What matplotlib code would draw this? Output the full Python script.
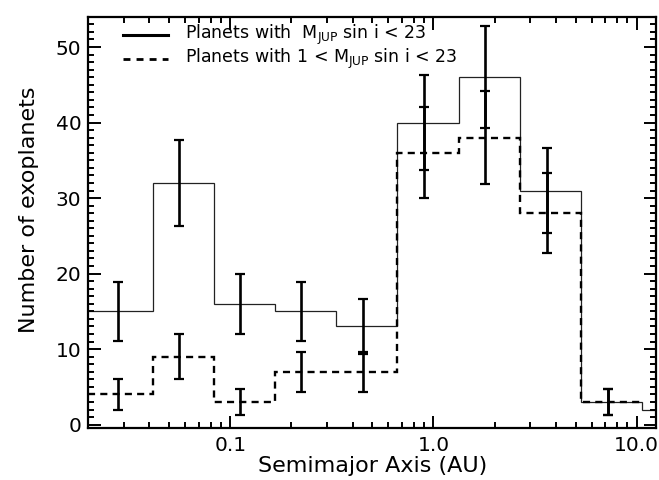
import matplotlib
matplotlib.use("Agg")
import matplotlib.pyplot as plt
from matplotlib.lines import Line2D
from matplotlib.ticker import LogLocator, FixedLocator, NullFormatter, MultipleLocator
import numpy as np

# ---- data ----
bin_edges = [0.02, 0.0415, 0.083, 0.166, 0.332, 0.664, 1.328, 2.656, 5.312, 10.62, 21.24]
all_counts = [15, 32, 16, 15, 13, 40, 46, 31, 3, 2]          # M sin i < 23
massive_counts = [4, 9, 3, 7, 7, 36, 38, 28, 3]              # 1 < M sin i < 23
err_x = [0.028, 0.056, 0.112, 0.224, 0.45, 0.9, 1.8, 3.6, 7.2]
x_ticks = [0.1, 1.0, 10.0]
x_tick_labels = ["0.1", "1.0", "10.0"]
y_ticks = [0, 10, 20, 30, 40, 50]
legend_labels = [r'Planets with  M$_{\mathrm{JUP}}$ sin i < 23',
                 r'Planets with 1 < M$_{\mathrm{JUP}}$ sin i < 23']

plt.rcParams['font.family'] = ['DejaVu Sans']
plt.rcParams['mathtext.fontset'] = 'dejavusans'

fig = plt.figure(figsize=(6.59, 4.8), dpi=100)
ax = fig.add_axes([0.134, 0.109, 0.862, 0.856])

ax.stairs(all_counts, bin_edges, baseline=None, color='#222222', lw=0.9)
ax.stairs(massive_counts, bin_edges[:len(massive_counts) + 1], baseline=None,
          color='black', lw=1.7, linestyle=(0, (3, 2.2)))

n_all = np.array(all_counts[:len(err_x)], dtype=float)
n_mas = np.array(massive_counts[:len(err_x)], dtype=float)
ekw = dict(fmt='none', ecolor='black', elinewidth=1.9, capsize=3.4, capthick=1.6)
ax.errorbar(err_x, n_all, yerr=np.sqrt(n_all), **ekw)
ax.errorbar(err_x, n_mas, yerr=np.sqrt(n_mas), **ekw)

ax.set_xscale('log')
ax.set_xlim(0.02, 12.5)
ax.set_ylim(-0.4, 54.0)

ax.xaxis.set_major_locator(FixedLocator(x_ticks))
ax.set_xticklabels(x_tick_labels)
ax.xaxis.set_minor_locator(LogLocator(base=10, subs=np.arange(2, 10), numticks=20))
ax.xaxis.set_minor_formatter(NullFormatter())
ax.set_yticks(y_ticks)
ax.yaxis.set_minor_locator(MultipleLocator(1))

ax.tick_params(which='both', direction='in', top=True, right=True, width=1.4, colors='black')
ax.tick_params(axis='x', which='major', length=9, labelsize=14.5, pad=6)
ax.tick_params(axis='x', which='minor', length=4.5)
ax.tick_params(axis='y', which='major', length=9, labelsize=14.5, pad=5)
ax.tick_params(axis='y', which='minor', length=4.5)
for s in ax.spines.values():
    s.set_linewidth(1.6)

ax.set_xlabel('Semimajor Axis (AU)', fontsize=16, labelpad=1)
ax.set_ylabel('Number of exoplanets', fontsize=16, labelpad=8)
ax.yaxis.set_label_coords(-0.086, 0.53)

# legend drawn manually for precise placement
row_y = [0.955, 0.898]
styles = [dict(color='black', lw=2.2, linestyle='-'),
          dict(color='black', lw=2.0, linestyle=(0, (2.5, 2.2)))]
for yy, st, lab in zip(row_y, styles, legend_labels):
    ax.add_line(Line2D([0.061, 0.140], [yy, yy], transform=ax.transAxes, **st))
    ax.text(0.170, yy, lab, transform=ax.transAxes, fontsize=12.5,
            va='center', ha='left')

fig.savefig('out.png', dpi=100)
